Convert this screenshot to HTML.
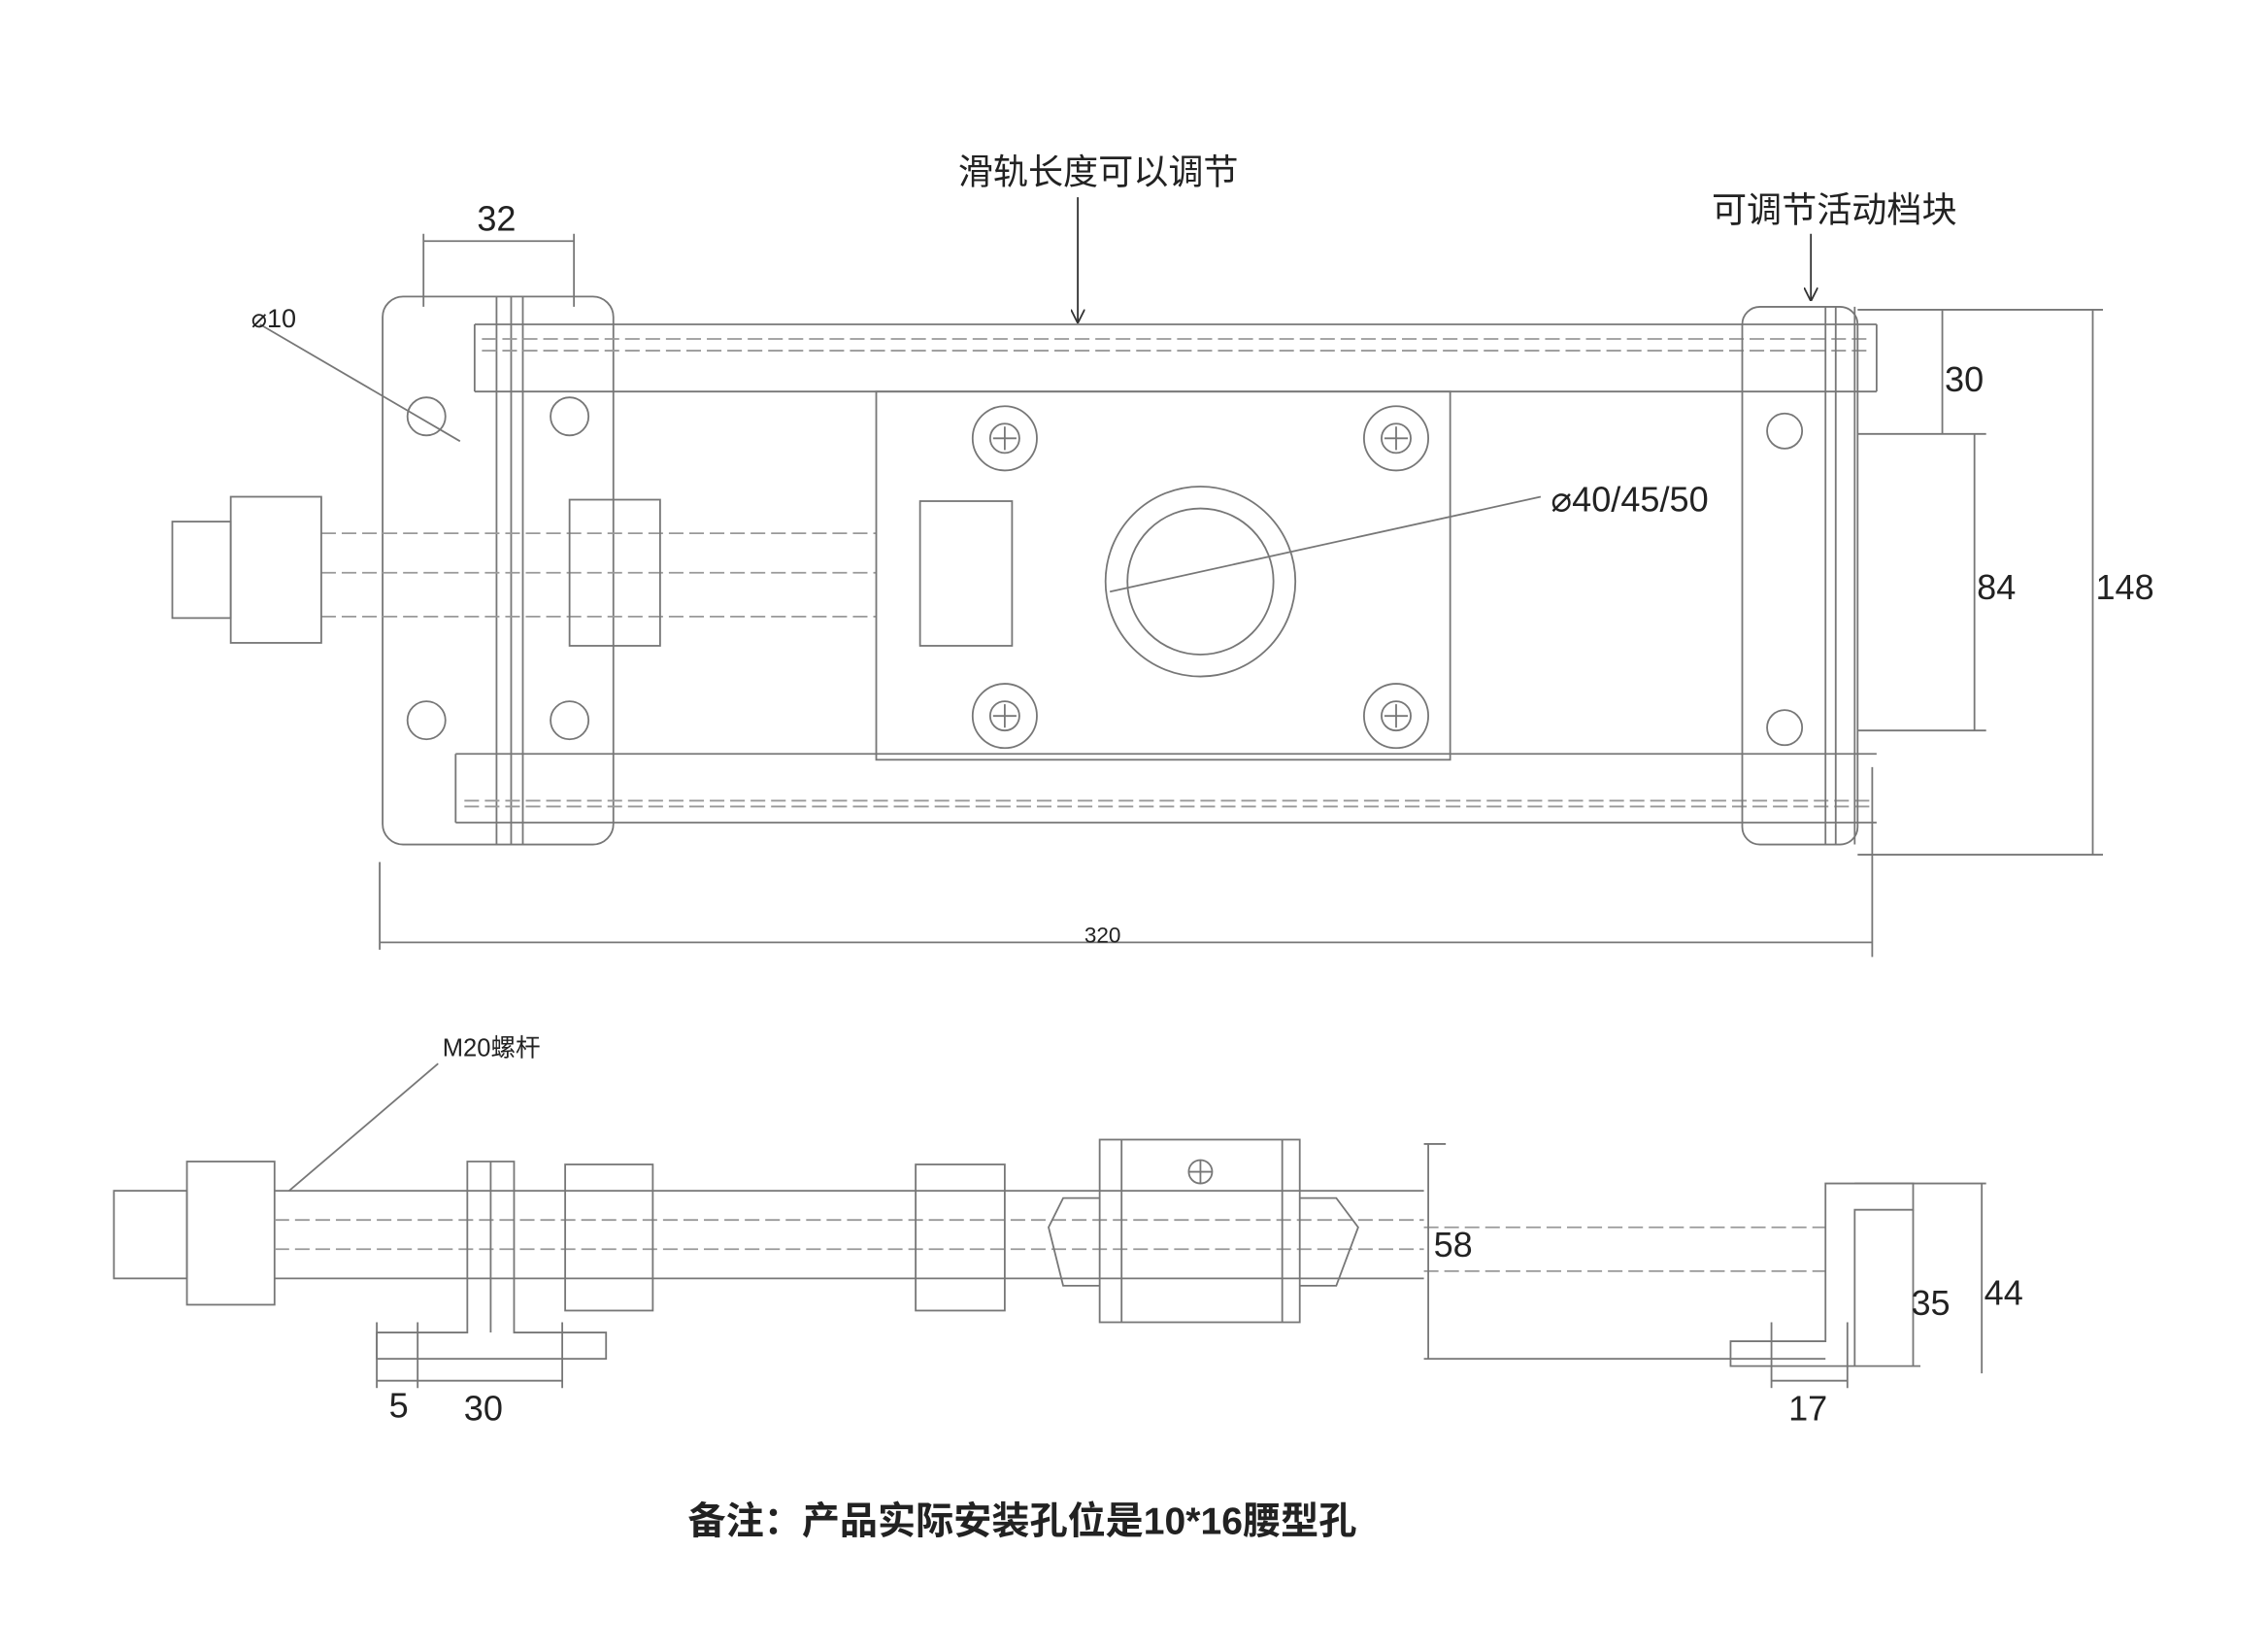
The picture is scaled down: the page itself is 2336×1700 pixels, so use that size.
<!DOCTYPE html>
<html><head><meta charset="utf-8"><style>
html,body{margin:0;padding:0;background:#fff;}
svg{display:block}
text{font-family:"Liberation Sans Narrow","Liberation Sans","Noto Sans CJK SC",sans-serif;fill:#222}
.dim{font-stretch:condensed}
</style></head><body>
<svg width="2336" height="1700" viewBox="0 0 1553 1130" preserveAspectRatio="none" xmlns="http://www.w3.org/2000/svg">
<defs><marker id="ah" markerWidth="8" markerHeight="8" refX="7" refY="4" orient="auto"><path d="M0,0 L8,4 L0,8" fill="none" stroke="#333"/></marker></defs>
<g fill="none" stroke="#777" stroke-width="1.2">
<rect x="262" y="203" width="158" height="375" rx="14"/>
<line x1="325" y1="222" x2="1285" y2="222"/>
<line x1="325" y1="268" x2="1285" y2="268"/>
<line x1="325" y1="222" x2="325" y2="268"/>
<line x1="1285" y1="222" x2="1285" y2="268"/>
<line x1="340" y1="203" x2="340" y2="578"/>
<line x1="350" y1="203" x2="350" y2="578"/>
<line x1="358" y1="203" x2="358" y2="578"/>
<line x1="312" y1="516" x2="1285" y2="516"/>
<line x1="312" y1="563" x2="1285" y2="563"/>
<line x1="312" y1="516" x2="312" y2="563"/>
<g stroke-dasharray="10,4" stroke="#999"><line x1="330" y1="232" x2="1280" y2="232"/><line x1="330" y1="240" x2="1280" y2="240"/><line x1="318" y1="548" x2="1280" y2="548"/><line x1="318" y1="552" x2="1280" y2="552"/>
<line x1="220" y1="365" x2="600" y2="365"/><line x1="220" y1="392" x2="600" y2="392"/><line x1="220" y1="422" x2="600" y2="422"/></g>
<rect x="600" y="268" width="393" height="252"/>
<circle cx="688" cy="300" r="22"/><circle cx="956" cy="300" r="22"/><circle cx="688" cy="490" r="22"/><circle cx="956" cy="490" r="22"/>
<circle cx="688" cy="300" r="10"/><circle cx="956" cy="300" r="10"/><circle cx="688" cy="490" r="10"/><circle cx="956" cy="490" r="10"/>
<path d="M680,300H696M688,292V308M948,300H964M956,292V308M680,490H696M688,482V498M948,490H964M956,482V498"/>
<circle cx="822" cy="398" r="65"/><circle cx="822" cy="398" r="50"/>
<rect x="630" y="343" width="63" height="99"/>
<rect x="158" y="340" width="62" height="100"/><rect x="118" y="357" width="40" height="66"/>
<rect x="390" y="342" width="62" height="100"/>
<circle cx="292" cy="285" r="13"/><circle cx="390" cy="285" r="13"/><circle cx="292" cy="493" r="13"/><circle cx="390" cy="493" r="13"/>
<rect x="1193" y="210" width="79" height="368" rx="12"/>
<line x1="1250" y1="210" x2="1250" y2="578"/><line x1="1257" y1="210" x2="1257" y2="578"/><line x1="1270" y1="210" x2="1270" y2="578"/>
<circle cx="1222" cy="295" r="12"/><circle cx="1222" cy="498" r="12"/>
<line x1="1272" y1="212" x2="1440" y2="212"/><line x1="1272" y1="585" x2="1440" y2="585"/>
<line x1="1433" y1="212" x2="1433" y2="585"/>
<line x1="1272" y1="297" x2="1360" y2="297"/><line x1="1272" y1="500" x2="1360" y2="500"/>
<line x1="1352" y1="297" x2="1352" y2="500"/>
<line x1="1330" y1="212" x2="1330" y2="297"/>
<line x1="260" y1="590" x2="260" y2="650"/><line x1="1282" y1="525" x2="1282" y2="655"/>
<line x1="260" y1="645" x2="1282" y2="645"/>
<line x1="290" y1="160" x2="290" y2="210"/><line x1="393" y1="160" x2="393" y2="210"/>
<line x1="290" y1="165" x2="393" y2="165"/>
<line x1="178" y1="222" x2="315" y2="302"/>
<line x1="760" y1="405" x2="1055" y2="340"/>
<rect x="78" y="815" width="50" height="60"/>
<rect x="128" y="795" width="60" height="98"/>
<line x1="188" y1="815" x2="975" y2="815"/><line x1="188" y1="875" x2="975" y2="875"/>
<g stroke-dasharray="10,4" stroke="#999"><line x1="188" y1="835" x2="975" y2="835"/><line x1="188" y1="855" x2="975" y2="855"/><line x1="975" y1="840" x2="1250" y2="840"/><line x1="975" y1="870" x2="1250" y2="870"/></g>
<path d="M320,795 H352 V912 H415 V930 H258 V912 H320 Z"/>
<line x1="336" y1="795" x2="336" y2="912"/>
<rect x="387" y="797" width="60" height="100"/>
<rect x="627" y="797" width="61" height="100"/>
<rect x="753" y="780" width="137" height="125"/>
<line x1="768" y1="780" x2="768" y2="905"/><line x1="878" y1="780" x2="878" y2="905"/>
<path d="M753,820 H728 L718,840 L728,880 H753"/><path d="M890,820 H915 L930,840 L915,880 H890"/>
<circle cx="822" cy="802" r="8"/><path d="M814,802H830M822,794V810"/>
<line x1="975" y1="783" x2="990" y2="783"/><line x1="975" y1="930" x2="1250" y2="930"/>
<line x1="978" y1="783" x2="978" y2="930"/>
<path d="M1250,810 H1310 V828 H1270 V935 H1185 V918 H1250 Z"/>
<line x1="1310" y1="828" x2="1310" y2="935"/><line x1="1270" y1="935" x2="1315" y2="935"/>
<line x1="1270" y1="810" x2="1360" y2="810"/><line x1="1357" y1="810" x2="1357" y2="940"/>
<line x1="1213" y1="905" x2="1213" y2="950"/><line x1="1265" y1="905" x2="1265" y2="950"/><line x1="1213" y1="945" x2="1265" y2="945"/>
<line x1="258" y1="905" x2="258" y2="950"/><line x1="286" y1="905" x2="286" y2="950"/><line x1="385" y1="905" x2="385" y2="950"/><line x1="258" y1="945" x2="385" y2="945"/>
<line x1="300" y1="728" x2="198" y2="815"/>
</g>
<g stroke="#333" stroke-width="1.2" fill="none">
<line x1="738" y1="135" x2="738" y2="220" marker-end="url(#ah)"/>
<line x1="1240" y1="160" x2="1240" y2="205" marker-end="url(#ah)"/>
</g>
<g font-size="24">
<text x="752" y="126" text-anchor="middle">滑轨长度可以调节</text>
<text x="1256" y="152" text-anchor="middle">可调节活动档块</text>
<text x="340" y="158" text-anchor="middle" class="dim">32</text>
<text x="1062" y="350" class="dim">⌀40/45/50</text>
<text x="1345" y="268" text-anchor="middle" class="dim">30</text>
<text x="1367" y="410" text-anchor="middle" class="dim">84</text>
<text x="1455" y="410" text-anchor="middle" class="dim">148</text>
<text x="995" y="860" text-anchor="middle" class="dim">58</text>
<text x="1322" y="900" text-anchor="middle" class="dim">35</text>
<text x="1372" y="893" text-anchor="middle" class="dim">44</text>
<text x="1238" y="972" text-anchor="middle" class="dim">17</text>
<text x="273" y="970" text-anchor="middle" class="dim">5</text>
<text x="331" y="972" text-anchor="middle" class="dim">30</text>
</g>
<text x="172" y="224" font-size="18">⌀10</text>
<text x="755" y="645" font-size="15" text-anchor="middle">320</text>
<text x="303" y="723" font-size="17">M20螺杆</text>
<text x="700" y="1050" font-size="26" font-weight="bold" text-anchor="middle">备注：产品实际安装孔位是10*16腰型孔</text>
</svg>
</body></html>
